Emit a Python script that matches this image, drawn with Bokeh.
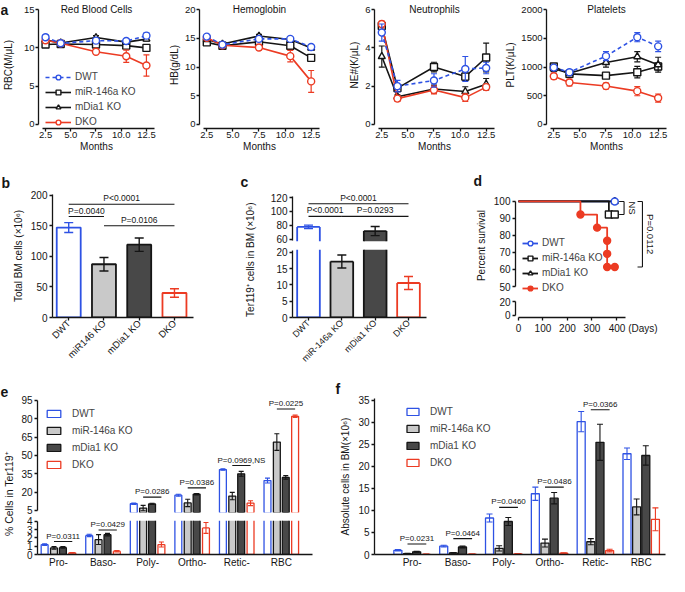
import math
from bokeh.plotting import figure
from bokeh.models import (Range1d, FixedTicker, Legend, LegendItem, Label,
                          PrintfTickFormatter, Title)
from bokeh.layouts import row, column
from bokeh.embed import file_html
from bokeh.resources import INLINE
from bokeh.core.properties import value

# ---------------- data ----------------
groups = ["DWT", "miR-146a KO", "mDia1 KO", "DKO"]
months = [2.5, 4.0, 7.5, 10.5, 12.5]
month_ticks = [2.5, 5.0, 7.5, 10.0, 12.5]

rbc_dwt = [11.4, 10.6, 10.95, 10.9, 11.6]
rbc_mir = [10.45, 10.5, 10.45, 10.3, 10.0]
rbc_mdia = [11.05, 10.65, 11.35, 10.75, 11.15]
rbc_dko = [11.0, 10.6, 9.5, 8.9, 7.7]
rbc_dwt_err = [0.3, 0.2, 0.3, 0.25, 0.35]
rbc_mir_err = [0.25, 0.2, 0.25, 0.2, 0.2]
rbc_mdia_err = [0.3, 0.2, 0.25, 0.2, 0.25]
rbc_dko_err = [0.3, 0.2, 0.3, 0.8, 1.4]

hb_dwt = [15.3, 13.9, 14.9, 14.9, 13.5]
hb_mir = [14.3, 13.7, 14.4, 13.7, 11.6]
hb_mdia = [14.8, 14.0, 15.4, 14.8, 13.3]
hb_dko = [15.1, 13.8, 13.4, 11.9, 7.5]
hb_dwt_err = [0.3, 0.3, 0.3, 0.3, 0.3]
hb_mir_err = [0.3, 0.3, 0.3, 0.4, 0.3]
hb_mdia_err = [0.3, 0.3, 0.3, 0.3, 0.3]
hb_dko_err = [0.3, 0.3, 0.4, 1.0, 1.9]

ne_dwt = [4.8, 2.0, 2.3, 2.9, 2.95]
ne_mir = [5.15, 1.9, 3.0, 2.5, 3.5]
ne_mdia = [3.55, 1.45, 1.85, 1.72, 2.1]
ne_dko = [5.25, 1.35, 1.8, 1.4, 1.95]
ne_dwt_err = [0.45, 0.3, 0.35, 0.65, 0.3]
ne_mir_err = [0.2, 0.15, 0.25, 0.2, 0.75]
ne_mdia_err = [0.55, 0.1, 0.2, 0.25, 0.3]
ne_dko_err = [0.15, 0.15, 0.2, 0.2, 0.15]

plt_dwt = [990, 910, 1190, 1520, 1360]
plt_mir = [1010, 880, 850, 910, 1010]
plt_mdia = [970, 890, 1080, 1180, 1040]
plt_dko = [840, 730, 670, 580, 460]
plt_dwt_err = [40, 40, 80, 80, 90]
plt_mir_err = [40, 30, 50, 100, 60]
plt_mdia_err = [50, 40, 80, 90, 130]
plt_dko_err = [50, 60, 50, 80, 70]

b_labels = ["DWT", "miR146 KO", "mDia1 KO", "DKO"]
b_vals = [147, 87, 119, 40]
b_errs = [8, 11, 11, 7]
b_sig_from = [0, 1, 0]
b_sig_to = [1, 3, 3]
b_sig_y = [165, 150, 185]
b_sig_text = ["P=0.0040", "P=0.0106", "P<0.0001"]

c_labels = ["DWT", "miR-146a KO", "mDia1 KO", "DKO"]
c_vals = [78, 17.2, 72, 10.6]
c_errs = [2.5, 2.0, 6.5, 2.0]
c_sig_from = [0, 1, 0]
c_sig_to = [1, 3, 3]
c_sig_y = [93, 93, 111]
c_sig_text = ["P<0.0001", "P=0.0293", "P<0.0001"]

surv_t_dwt = [0, 393]
surv_dwt = [100, 100]
surv_t_mir = [0, 369, 393]
surv_mir = [100, 92.3, 92.3]
surv_t_mdia = [0, 393]
surv_mdia = [100, 100]
surv_t_dko = [0, 253, 321, 362, 362, 362, 393]
surv_dko = [100, 92.3, 84.6, 76.9, 69.2, 61.5, 61.5]
d_days_ticks = [0, 100, 200, 300, 400]
d_brk_x = [431, 506]
d_brk_top = [100, 100]
d_brk_bot = [92.3, 61.5]
d_brk_text = ["NS", "P=0.0112"]

cats = ["Pro-", "Baso-", "Poly-", "Ortho-", "Retic-", "RBC"]
e_dwt = [1.2, 2.3, 10.5, 17.5, 38.5, 29.5]
e_mir = [0.8, 1.8, 7.0, 11.2, 16.8, 61.0]
e_mdia = [0.85, 2.4, 10.4, 18.3, 35.0, 32.0]
e_dko = [0.2, 0.4, 1.2, 3.2, 11.0, 82.0]
e_dwt_err = [0.1, 0.15, 0.6, 0.8, 0.6, 2.0]
e_mir_err = [0.15, 0.6, 2.2, 3.0, 3.0, 6.8]
e_mdia_err = [0.1, 0.15, 0.5, 0.6, 2.0, 1.5]
e_dko_err = [0.05, 0.08, 0.3, 0.65, 2.0, 1.0]
e_sig_y = [1.56, 2.95, 15.9, 23.5, 41.8, 88.0]
e_sig_text = ["P=0.0311", "P=0.0429", "P=0.0286", "P=0.0386", "P=0.0969,NS", "P=0.0225"]

f_dwt = [0.95, 1.9, 8.3, 13.8, 30.2, 22.9]
f_mir = [0.2, 0.35, 1.4, 2.6, 2.9, 10.8]
f_mdia = [0.6, 1.7, 7.5, 12.8, 25.5, 22.5]
f_dko = [0.05, 0.08, 0.15, 0.3, 0.9, 8.0]
f_dwt_err = [0.15, 0.2, 0.9, 1.5, 2.3, 1.3]
f_mir_err = [0.05, 0.08, 0.6, 0.9, 0.7, 1.8]
f_mdia_err = [0.1, 0.2, 0.9, 1.3, 4.1, 2.2]
f_dko_err = [0.03, 0.03, 0.05, 0.1, 0.3, 2.6]
f_sig_y = [2.4, 3.6, 10.7, 15.3, 32.9]
f_sig_text = ["P=0.0231", "P=0.0464", "P=0.0460", "P=0.0486", "P=0.0366"]

# ---------------- style ----------------
FONT = "Liberation Sans"
BLUE = "#2e52e4"
RED = "#ec3b23"
BLACK = "#151515"
LGRAY = "#c9c9c9"
DGRAY = "#484848"
SER_COLOR = [BLUE, BLACK, BLACK, RED]
SER_DASH = ["4 3", "solid", "solid", "solid"]
SER_MARK = ["circle", "square", "triangle", "circle"]
BAR_FILL = ["white", LGRAY, DGRAY, "white"]
OFFS = [-0.31, -0.1, 0.1, 0.31]
NB = "\u00a0"


def mk_fig(w, h, l, r, t, b, xr, yr):
    p = figure(width=w, height=h, x_range=Range1d(*xr), y_range=Range1d(*yr),
               min_border_left=l, min_border_right=r, min_border_top=t,
               min_border_bottom=b, output_backend="svg", toolbar_location=None,
               tools="", title=None)
    p.xgrid.visible = False
    p.ygrid.visible = False
    p.outline_line_color = None
    return p


def side_fig(w, h, t, b):
    """Narrow strip (full-width frame) that carries a shared y title and a panel letter."""
    p = figure(width=w, height=h, x_range=Range1d(0, 1), y_range=Range1d(0, 1),
               min_border_left=0, min_border_right=0, min_border_top=t,
               min_border_bottom=b, x_axis_location=None, y_axis_location=None,
               title=None, output_backend="svg", toolbar_location=None, tools="")
    p.xgrid.visible = False
    p.ygrid.visible = False
    p.outline_line_color = None
    return p


def letter_title(p, txt, offset, standoff):
    p.title = Title(text=txt, align="left", offset=offset, standoff=standoff,
                    text_font=FONT, text_font_size="14px", text_font_style="bold",
                    text_color=BLACK, vertical_align="bottom")


def text_label(p, x, y, txt, fs="10px", angle=0.0, bold=False, align="center",
               baseline="middle"):
    p.add_layout(Label(x=x, y=y, text=txt, angle=angle, text_align=align,
                       text_baseline=baseline, text_font=FONT, text_font_size=fs,
                       text_font_style="bold" if bold else "normal", text_color=BLACK))


def style_axes(p, fs="10px", lab_standoff=2, title_standoff=4):
    for ax in list(p.xaxis) + list(p.yaxis):
        ax.axis_line_width = 1.3
        ax.axis_line_color = BLACK
        ax.major_tick_line_width = 1.3
        ax.major_tick_line_color = BLACK
        ax.major_tick_out = 3
        ax.major_tick_in = 0
        ax.minor_tick_out = 0
        ax.minor_tick_in = 0
        ax.major_label_standoff = lab_standoff
        ax.major_label_text_font = FONT
        ax.major_label_text_font_size = fs
        ax.major_label_text_color = BLACK
        ax.axis_label_text_font = FONT
        ax.axis_label_text_font_size = "10px"
        ax.axis_label_text_font_style = "normal"
        ax.axis_label_text_color = BLACK
        ax.axis_label_standoff = title_standoff


def add_errors(p, xs, means, errs, colors, cap, lw=1.2, keep=None):
    X, LO, HI, C = [], [], [], []
    for x, m, e, c in zip(xs, means, errs, colors):
        if keep is None or keep(m):
            X.append(x)
            LO.append(m - e)
            HI.append(m + e)
            C.append(c)
    if not X:
        return
    p.segment(x0=X, y0=LO, x1=X, y1=HI, line_color=C, line_width=lw)
    p.scatter(X + X, LO + HI, marker="dash", size=cap, line_color=C + C, line_width=lw)


def add_sig(p, x0s, x1s, ys, texts, fs):
    if not x0s:
        return
    p.segment(x0=x0s, y0=ys, x1=x1s, y1=ys, line_color=BLACK, line_width=1.1)
    mids = [(a + b) / 2 for a, b in zip(x0s, x1s)]
    p.text(x=mids, y=ys, text=texts, text_align="center", text_baseline="bottom",
           y_offset=-1, text_font=value(FONT), text_font_size=value(fs), text_color=BLACK)


def broken_bars(p, xs, vals, width, fills, lines, lw):
    """Bars of one axis segment: only the part inside this segment's y range is drawn."""
    lo, hi = p.y_range.start, p.y_range.end
    X, B, T, F = [], [], [], []
    s0x, s0y, s1x, s1y, sc = [], [], [], [], []
    for x, v, f, c in zip(xs, vals, fills, lines):
        if v <= lo:
            continue
        bot = max(0.0, lo)
        top = min(v, hi)
        X.append(x)
        B.append(bot)
        T.append(top)
        F.append(f)
        for dx in (-width / 2, width / 2):
            s0x.append(x + dx); s1x.append(x + dx); s0y.append(bot); s1y.append(top); sc.append(c)
        if v <= hi:
            s0x.append(x - width / 2); s1x.append(x + width / 2); s0y.append(v); s1y.append(v); sc.append(c)
        if lo <= 0:
            s0x.append(x - width / 2); s1x.append(x + width / 2); s0y.append(0); s1y.append(0); sc.append(c)
    if X:
        p.vbar(x=X, top=T, bottom=B, width=width, fill_color=F, line_color=None)
        p.segment(x0=s0x, y0=s0y, x1=s1x, y1=s1y, line_color=sc, line_width=lw)


def upper_bars(p, xs, vals, width, fill, line, lw, inset):
    """Upper piece of bars above an axis break; the edge on the break is covered."""
    lo = p.y_range.start
    X = [x for x, v in zip(xs, vals) if v > lo]
    T = [v for v in vals if v > lo]
    r = p.vbar(x=X, top=T, bottom=lo, width=width, fill_color=fill, line_color=line,
               line_width=lw)
    p.segment(x0=[x - width / 2 + inset for x in X], y0=[lo] * len(X),
              x1=[x + width / 2 - inset for x in X], y1=[lo] * len(X),
              line_color=fill, line_width=3)
    return r


# ---------------- row a ----------------
ROW_A_H, ROW_A_T, ROW_A_B = 162, 1, 34


def panel_a(w, l, r, title, ylabel, ymax, yticks, means, errs, with_legend=False):
    XR = (1.8, 13.3)
    p = mk_fig(w, ROW_A_H, l, r, ROW_A_T, ROW_A_B, XR, (-0.0354 * ymax, 1.0708 * ymax))
    rends = {}
    for g in [1, 2, 3, 0]:
        m = means[g]
        col = SER_COLOR[g]
        add_errors(p, months, m, errs[g], [col] * len(m), 6)
        ln = p.line(months, m, line_color=col, line_width=1.6, line_dash=SER_DASH[g])
        mk = p.scatter(months, m, marker=SER_MARK[g], size=7, line_color=col,
                       fill_color="white", line_width=1.4)
        rends[g] = [ln, mk]
    p.xaxis.ticker = FixedTicker(ticks=month_ticks)
    p.xaxis.formatter = PrintfTickFormatter(format="%.1f")
    p.xaxis.bounds = (2.2, 13.3)
    p.xaxis.axis_label = "Months"
    p.yaxis.ticker = FixedTicker(ticks=yticks)
    p.yaxis.bounds = (0, ymax)
    if ylabel:
        p.yaxis.axis_label = ylabel
    style_axes(p, "9.5px", lab_standoff=1, title_standoff=2)
    p.xaxis.major_label_standoff = 0
    p.xaxis.axis_label_standoff = 0
    text_label(p, (XR[0] + XR[1]) / 2, ymax, title)
    if with_legend:
        items = [LegendItem(label=groups[g], renderers=rends[g]) for g in range(4)]
        lg = Legend(items=items, location=(7, 0), label_text_font=FONT,
                    label_text_font_size="10px", glyph_width=26, glyph_height=12,
                    label_height=13, label_standoff=4, spacing=2, padding=2, margin=0,
                    border_line_color=None, background_fill_alpha=0)
        p.add_layout(lg)
    return p


pa_lab = side_fig(20, ROW_A_H, ROW_A_T, ROW_A_B)
text_label(pa_lab, 0.0, 1.0, "a", fs="14px", bold=True, align="left", baseline="top")
text_label(pa_lab, 0.42, 0.5, "RBC(M/μL)", angle=math.pi / 2)
pa1 = panel_a(144, 14, 10, "Red Blood Cells", None, 15, [0, 5, 10, 15],
              [rbc_dwt, rbc_mir, rbc_mdia, rbc_dko],
              [rbc_dwt_err, rbc_mir_err, rbc_mdia_err, rbc_dko_err], True)
pa2 = panel_a(168, 35, 13, "Hemoglobin", "HB(g/dL)", 20, [0, 5, 10, 15, 20],
              [hb_dwt, hb_mir, hb_mdia, hb_dko],
              [hb_dwt_err, hb_mir_err, hb_mdia_err, hb_dko_err])
pa3 = panel_a(168, 42, 6, "Neutrophils", "NE#(K/μL)", 6, [0, 2, 4, 6],
              [ne_dwt, ne_mir, ne_mdia, ne_dko],
              [ne_dwt_err, ne_mir_err, ne_mdia_err, ne_dko_err])
pa4 = panel_a(169, 46, 3, "Platelets", "PLT(K/μL)", 2000, [0, 500, 1000, 1500, 2000],
              [plt_dwt, plt_mir, plt_mdia, plt_dko],
              [plt_dwt_err, plt_mir_err, plt_mdia_err, plt_dko_err])

# ---------------- panel b ----------------
pb = mk_fig(240, 208, 52, 47, 32, 53, (-0.46, 3.54), (0, 201))
letter_title(pb, "b", -51, 7)
xb = list(range(len(b_labels)))
pb.vbar(x=xb, top=b_vals, bottom=0, width=0.68, fill_color=BAR_FILL,
        line_color=SER_COLOR, line_width=1.8)
add_errors(pb, xb, b_vals, b_errs, SER_COLOR, 9, lw=1.4)
add_sig(pb, b_sig_from, b_sig_to, b_sig_y, b_sig_text, "8.5px")
pb.xaxis.ticker = FixedTicker(ticks=xb)
pb.xaxis.major_label_overrides = {i: t for i, t in zip(xb, b_labels)}
pb.xaxis.major_label_orientation = math.pi / 4
pb.yaxis.ticker = FixedTicker(ticks=[0, 50, 100, 150, 200])
pb.yaxis.axis_label = "Total BM cells (×10⁶)"
style_axes(pb)
pb.xaxis.major_label_text_font_size = "9.5px"
pb.xaxis.major_label_standoff = 1

# ---------------- panel c (broken axis) ----------------
pc_lab = side_fig(18, 208, 32, 53)
letter_title(pc_lab, "c", 0, 10)
text_label(pc_lab, 0.55, 0.47, "Ter119⁺ cells in BM (×10⁶)", angle=math.pi / 2)

xc = list(range(len(c_labels)))
pc_top = mk_fig(212, 83, 34, 44, 32, 4, (-0.48, 3.54), (57.1, 124.3))
pc_bot = mk_fig(212, 125, 34, 44, 4, 53, (-0.48, 3.54), (0, 20.9))
for pp, keep in [(pc_top, lambda v: v > 40), (pc_bot, lambda v: v <= 40)]:
    broken_bars(pp, xc, c_vals, 0.68, BAR_FILL, SER_COLOR, 1.8)
    add_errors(pp, xc, c_vals, c_errs, SER_COLOR, 9, lw=1.4, keep=keep)
add_sig(pc_top, c_sig_from, c_sig_to, c_sig_y, c_sig_text, "8.5px")
pc_top.xaxis.visible = False
pc_top.yaxis.ticker = FixedTicker(ticks=[60, 80, 100, 120])
pc_top.yaxis.bounds = (58.5, 121.5)
pc_bot.yaxis.ticker = FixedTicker(ticks=[0, 5, 10, 15, 20])
pc_bot.yaxis.bounds = (0, 20.5)
pc_bot.xaxis.ticker = FixedTicker(ticks=xc)
pc_bot.xaxis.major_label_overrides = {i: t for i, t in zip(xc, c_labels)}
pc_bot.xaxis.major_label_orientation = math.pi / 4
style_axes(pc_top)
style_axes(pc_bot)
pc_bot.xaxis.major_label_text_font_size = "9px"
pc_bot.xaxis.major_label_standoff = 1

# ---------------- panel d (survival, broken axis) ----------------
pd_top = mk_fig(199, 132, 45, 5, 32, 0, (-12, 596), (45.3, 102.9))
pd_bot = mk_fig(199, 76, 45, 5, 7, 53, (-12, 596), (-2.86, 20.0))
letter_title(pd_top, "d", -42, 16)
surv_t = [surv_t_dwt, surv_t_mir, surv_t_mdia, surv_t_dko]
surv_v = [surv_dwt, surv_mir, surv_mdia, surv_dko]
d_lines = {}
for g in [0, 2, 1, 3]:
    d_lines[g] = pd_top.step(surv_t[g], surv_v[g], mode="after", line_color=SER_COLOR[g],
                             line_width=1.8)
d_marks = {}
for g in [2, 1, 0, 3]:
    fill = RED if g == 3 else "white"
    d_marks[g] = pd_top.scatter(surv_t[g][1:], surv_v[g][1:], marker=SER_MARK[g], size=7,
                                line_color=SER_COLOR[g], fill_color=fill, line_width=1.4)
pd_top.segment(x0=d_brk_x, y0=d_brk_top, x1=d_brk_x, y1=d_brk_bot, line_color=BLACK,
               line_width=1.1)
pd_top.segment(x0=[x - 20 for x in d_brk_x], y0=d_brk_top, x1=d_brk_x, y1=d_brk_top,
               line_color=BLACK, line_width=1.1)
pd_top.segment(x0=[x - 20 for x in d_brk_x], y0=d_brk_bot, x1=d_brk_x, y1=d_brk_bot,
               line_color=BLACK, line_width=1.1)
pd_top.text(x=d_brk_x, y=[(a + b) / 2 for a, b in zip(d_brk_top, d_brk_bot)], text=d_brk_text,
            angle=-math.pi / 2, x_offset=8, text_align="center", text_baseline="middle",
            text_font=value(FONT), text_font_size=value("9.5px"), text_color=BLACK)
pd_top.xaxis.visible = False
pd_top.yaxis.ticker = FixedTicker(ticks=[50, 60, 70, 80, 90, 100])
pd_top.yaxis.bounds = (50, 100)
pd_top.yaxis.axis_label = "Percent survival"
pd_bot.yaxis.ticker = FixedTicker(ticks=[0, 20])
pd_bot.yaxis.bounds = (0, 20)
pd_bot.xaxis.ticker = FixedTicker(ticks=d_days_ticks)
pd_bot.xaxis.bounds = (0, 435)
pd_bot.xaxis.major_label_overrides = {400: NB * 12 + "400 (Days)"}
style_axes(pd_top)
style_axes(pd_bot)
d_items = [LegendItem(label=groups[g], renderers=[d_lines[g], d_marks[g]]) for g in range(4)]
pd_top.add_layout(Legend(items=d_items, location=(7, 0), label_text_font=FONT,
                         label_text_font_size="10px", glyph_width=16, glyph_height=12,
                         label_height=13, label_standoff=4, spacing=2, padding=2, margin=0,
                         border_line_color=None, background_fill_alpha=0))

# ---------------- panel e (broken axis) ----------------
pe_lab = side_fig(18, 204, 28, 20)
letter_title(pe_lab, "e", 0, 4)
text_label(pe_lab, 0.45, 0.39, "% Cells in Ter119⁺", fs="10.5px", angle=math.pi / 2)

xe = list(range(len(cats)))
e_vals = [e_dwt, e_mir, e_mdia, e_dko]
e_errs = [e_dwt_err, e_mir_err, e_mdia_err, e_dko_err]
pe_top = mk_fig(310, 146, 19, 16, 28, 4, (-0.47, 5.7), (3.36, 96.6))
pe_bot = mk_fig(310, 58, 19, 16, 4, 20, (-0.47, 5.7), (0, 4.1))
e_rends = []
for g in range(4):
    xs = [i + OFFS[g] for i in xe]
    e_rends.append(upper_bars(pe_top, xs, e_vals[g], 0.155, BAR_FILL[g], SER_COLOR[g], 1.3, 0.02))
    broken_bars(pe_bot, xs, e_vals[g], 0.155, [BAR_FILL[g]] * len(xs),
                [SER_COLOR[g]] * len(xs), 1.3)
for pp, keep in [(pe_top, lambda v: v >= 4.5), (pe_bot, lambda v: v < 4.5)]:
    for g in range(4):
        xs = [i + OFFS[g] for i in xe]
        add_errors(pp, xs, e_vals[g], e_errs[g], [SER_COLOR[g]] * len(xs), 5, lw=1.1, keep=keep)
    sx0 = [i + OFFS[1] for i, y in zip(xe, e_sig_y) if keep(y)]
    sx1 = [i + OFFS[3] for i, y in zip(xe, e_sig_y) if keep(y)]
    sy = [y for y in e_sig_y if keep(y)]
    st = [t for t, y in zip(e_sig_text, e_sig_y) if keep(y)]
    add_sig(pp, sx0, sx1, sy, st, "8px")
pe_top.xaxis.visible = False
pe_top.yaxis.ticker = FixedTicker(ticks=[5, 20, 35, 50, 65, 80, 95])
pe_top.yaxis.bounds = (5, 95)
pe_bot.yaxis.ticker = FixedTicker(ticks=[0, 1, 2, 3, 4])
pe_bot.yaxis.bounds = (0, 4)
pe_bot.xaxis.ticker = FixedTicker(ticks=xe)
pe_bot.xaxis.major_label_overrides = {i: t for i, t in zip(xe, cats)}
style_axes(pe_top)
style_axes(pe_bot)
pe_bot.xaxis.major_tick_out = 0
pe_bot.xaxis.major_label_standoff = 2
pe_top.add_layout(Legend(items=[LegendItem(label=groups[g], renderers=[e_rends[g]]) for g in range(4)],
                         location=(8, 40), label_text_font=FONT, label_text_font_size="10px",
                         glyph_width=17, glyph_height=9, label_height=15, label_standoff=10,
                         spacing=2, padding=2, margin=0, border_line_color=None,
                         background_fill_alpha=0))

# ---------------- panel f ----------------
pf = mk_fig(341, 204, 46, 4, 28, 20, (-0.82, 5.53), (0, 35.45))
letter_title(pf, "f", -39, 4)
f_vals = [f_dwt, f_mir, f_mdia, f_dko]
f_errs = [f_dwt_err, f_mir_err, f_mdia_err, f_dko_err]
f_rends = []
for g in range(4):
    xs = [i + OFFS[g] for i in xe]
    f_rends.append(pf.vbar(x=xs, top=f_vals[g], bottom=0, width=0.175, fill_color=BAR_FILL[g],
                           line_color=SER_COLOR[g], line_width=1.3))
for g in range(4):
    xs = [i + OFFS[g] for i in xe]
    add_errors(pf, xs, f_vals[g], f_errs[g], [SER_COLOR[g]] * len(xs), 6, lw=1.1)
add_sig(pf, [i + OFFS[1] for i in xe[:len(f_sig_y)]], [i + OFFS[3] for i in xe[:len(f_sig_y)]],
        f_sig_y, f_sig_text, "8px")
pf.xaxis.ticker = FixedTicker(ticks=xe)
pf.xaxis.major_label_overrides = {i: t for i, t in zip(xe, cats)}
pf.yaxis.ticker = FixedTicker(ticks=[0, 5, 10, 15, 20, 25, 30, 35])
pf.yaxis.axis_label = "Absolute cells in BM(×10⁶)"
style_axes(pf)
pf.xaxis.major_tick_out = 0
pf.xaxis.major_label_standoff = 2
pf.add_layout(Legend(items=[LegendItem(label=groups[g], renderers=[f_rends[g]]) for g in range(4)],
                     location=(31, 84), label_text_font=FONT, label_text_font_size="10px",
                     glyph_width=15, glyph_height=9, label_height=15, label_standoff=10,
                     spacing=2, padding=2, margin=0, border_line_color=None,
                     background_fill_alpha=0))

# ---------------- layout ----------------
row_a = row(pa_lab, pa1, pa2, pa3, pa4)
row_b = row(pb, pc_lab, column(pc_top, pc_bot), column(pd_top, pd_bot))
row_e = row(pe_lab, column(pe_top, pe_bot), pf)
layout = column(row_a, row_b, row_e)

open("out.html", "w").write(file_html(layout, INLINE))
